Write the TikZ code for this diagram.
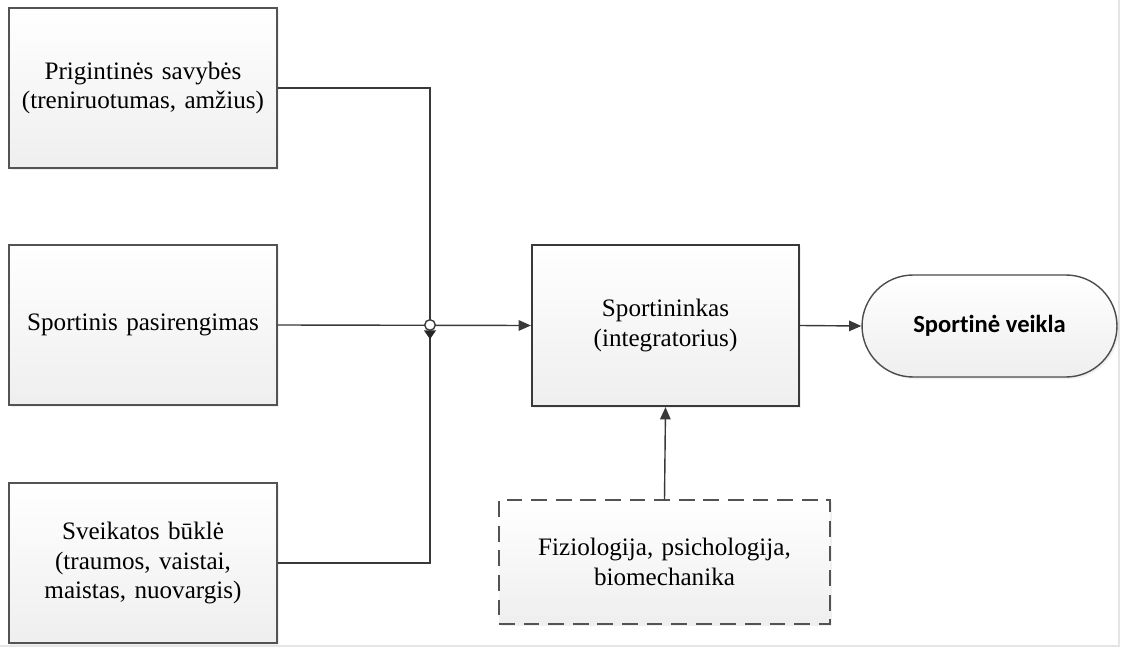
\documentclass[tikz,border=0pt]{standalone}
\usepackage{fontspec}
\setmainfont{Liberation Serif}
\newfontfamily\carlito[Ligatures=NoCommon]{Carlito}
\usepackage{tikz}
\usetikzlibrary{shapes.geometric, arrows.meta, shadows}

\begin{document}
\begin{tikzpicture}[x=0.02cm, y=-0.02cm]
        % Define block styles with light gradient fill
        \tikzstyle{factor} = [rectangle, draw=gray!65!black, line width=0.8pt, top color=white, bottom color=gray!13,
                              minimum width=5.36cm, minimum height=3.2cm, text width=5cm, align=center,
                              font=\fontsize{14.3}{17}\selectfont,
                              drop shadow={opacity=0.12, shadow xshift=1.2pt, shadow yshift=-1.2pt}]
        \tikzstyle{core} = [factor, draw=gray!45!black, line width=1.3pt, minimum width=5.34cm, minimum height=3.22cm]
        \tikzstyle{science} = [factor, dash pattern=on 9pt off 5pt, minimum width=6.62cm, minimum height=2.48cm, text width=6cm]
        \tikzstyle{result} = [rectangle, rounded corners=1.02cm, draw=gray!60!black, line width=0.8pt, top color=white,
                              bottom color=gray!13, minimum width=5.1cm, minimum height=2.04cm,
                              font=\carlito\bfseries\fontsize{14}{17}\selectfont,
                              drop shadow={opacity=0.12, shadow xshift=1.2pt, shadow yshift=-1.2pt}]
        \tikzstyle{line} = [line width=0.8pt, draw=gray!45!black]
        \tikzstyle{arrow} = [line, -{Triangle[length=7pt,width=6pt]}]
        \tikzstyle{hop} = [circle, draw=gray!45!black, line width=0.8pt, fill=white, inner sep=0pt, minimum size=6pt]
        \tikzstyle{hoptip} = [isosceles triangle, isosceles triangle apex angle=70, shape border rotate=-90,
                              fill=gray!30!black, inner sep=0pt, minimum height=5pt, minimum width=6pt]
        \useasboundingbox (0,0) rectangle (1121,648);

        % Page edges
        \draw [gray!20, line width=0.6pt] (1119,0) -- (1119,646) -- (0,646);

        % Blocks
        \node (prigimtis) [factor] at (143,88) {Prigintinės savybės\\(treniruotumas, amžius)};
        \node (pasirengimas) [factor] at (143,325) {Sportinis pasirengimas};
        \node (sveikata) [factor] at (143,563) {Sveikatos būklė\\(traumos, vaistai,\\maistas, nuovargis)};
        \node (sportininkas) [core] at (665.5,325.5) {Sportininkas\\(integratorius)};
        \node (veikla) [result] at (989.5,326) {Sportinė veikla};
        \node (mokslai) [science] at (664.5,562) {Fiziologija, psichologija,\\biomechanika};
        \coordinate (jungtis) at (430,325);

        % Arrows
        \draw [line] (prigimtis.east) -| (jungtis);
        \draw [line] (sveikata.east) -| (jungtis);
        \draw [arrow] (pasirengimas.east) -- (sportininkas.west);
        \draw [arrow] (sportininkas.east) -- (veikla.west);
        \draw [arrow] (mokslai.north) -- (sportininkas.south);
        \node (jungtistip) [hoptip] at (430,333.5) {};
        \node (jungtishop) [hop] at (jungtis) {};
    \end{tikzpicture}
\end{document}
